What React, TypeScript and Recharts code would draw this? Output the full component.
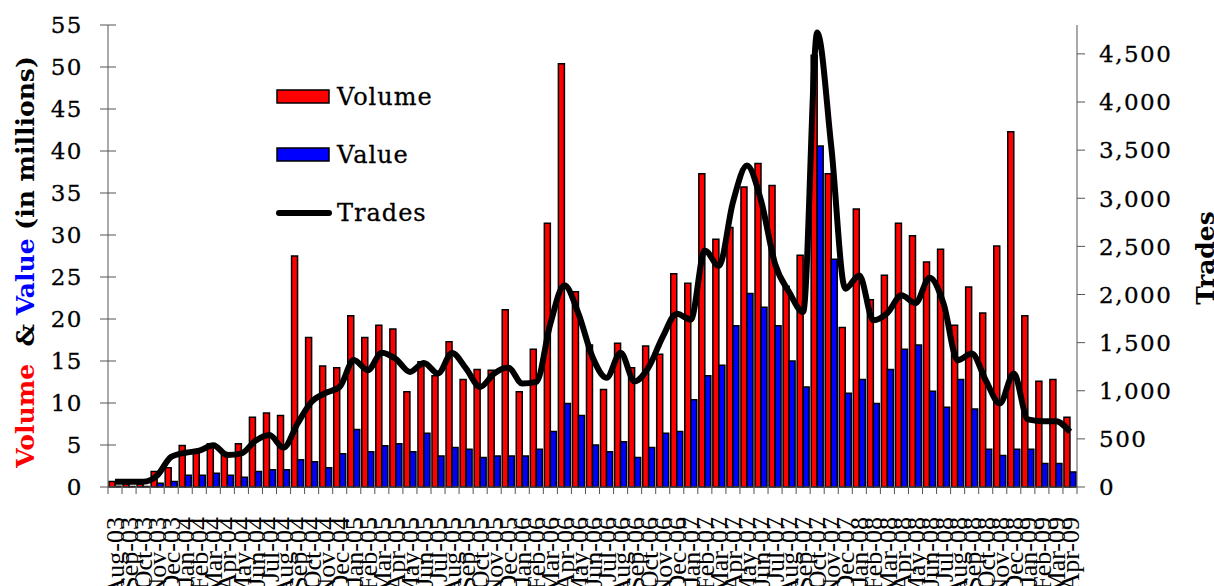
import { ComposedChart, Bar, Line, XAxis, YAxis } from "recharts"

const months = [
  "Aug-03", "Sep-03", "Oct-03", "Nov-03", "Dec-03",
  "Jan-04", "Feb-04", "Mar-04", "Apr-04", "May-04", "Jun-04", "Jul-04", "Aug-04", "Sep-04", "Oct-04", "Nov-04", "Dec-04",
  "Jan-05", "Feb-05", "Mar-05", "Apr-05", "May-05", "Jun-05", "Jul-05", "Aug-05", "Sep-05", "Oct-05", "Nov-05", "Dec-05",
  "Jan-06", "Feb-06", "Mar-06", "Apr-06", "May-06", "Jun-06", "Jul-06", "Aug-06", "Sep-06", "Oct-06", "Nov-06", "Dec-06",
  "Jan-07", "Feb-07", "Mar-07", "Apr-07", "May-07", "Jun-07", "Jul-07", "Aug-07", "Sep-07", "Oct-07", "Nov-07", "Dec-07",
  "Jan-08", "Feb-08", "Mar-08", "Apr-08", "May-08", "Jun-08", "Jul-08", "Aug-08", "Sep-08", "Oct-08", "Nov-08", "Dec-08",
  "Jan-09", "Feb-09", "Mar-09", "Apr-09",
]

// millions
const volume = [
  0.65, 0.4, 0.4, 1.85, 2.3,
  4.95, 4.3, 5.15, 4.1, 5.15, 8.3, 8.8, 8.5, 27.5, 17.8, 14.4, 14.2,
  20.4, 17.8, 19.25, 18.8, 11.35, 14.9, 13.25, 17.3, 12.8, 14.0, 13.9, 21.1,
  11.35, 16.4, 31.4, 50.4, 23.25, 16.9, 11.6, 17.1, 14.2, 16.8, 15.8, 25.4,
  24.25, 37.3, 29.5, 30.9, 35.7, 38.5, 35.9, 23.9, 27.6, 51.4, 37.3, 19.0,
  33.1, 22.3, 25.2, 31.4, 29.9, 26.8, 28.3, 19.25, 23.8, 20.7, 28.7, 42.3,
  20.4, 12.6, 12.8, 8.3,
]

const value = [
  0.08, 0.06, 0.06, 0.45, 0.65,
  1.4, 1.4, 1.65, 1.4, 1.15, 1.85, 2.05, 2.05, 3.25, 3.0, 2.3, 3.95,
  6.85, 4.2, 4.9, 5.15, 4.2, 6.4, 3.7, 4.7, 4.5, 3.5, 3.7, 3.7,
  3.7, 4.5, 6.6, 9.95, 8.5, 5.0, 4.2, 5.4, 3.5, 4.7, 6.4, 6.6,
  10.4, 13.25, 14.5, 19.2, 23.05, 21.4, 19.2, 15.0, 11.9, 40.6, 27.1, 11.15,
  12.8, 9.95, 14.0, 16.4, 16.9, 11.4, 9.5, 12.8, 9.3, 4.5, 3.75, 4.5,
  4.5, 2.8, 2.8, 1.8,
]

const trades = [
  55, 55, 55, 120, 314,
  356, 377, 435, 332, 349, 480, 539, 408, 660, 885, 978, 1040,
  1320, 1213, 1395, 1330, 1196, 1289, 1179, 1393, 1230, 1040, 1179, 1241,
  1075, 1092, 1697, 2095, 1801, 1351, 1135, 1395, 1097, 1245, 1560, 1801,
  1740, 2457, 2295, 2959, 3339, 2976, 2319, 2025, 1818, 4721, 3540, 2060,
  2198, 1732, 1808, 1991, 1911, 2174, 1905, 1317, 1386, 1110, 868, 1179,
  702, 684, 684, 573,
]

const leftTicks = [0, 5, 10, 15, 20, 25, 30, 35, 40, 45, 50, 55]
const rightTicks = [0, 500, 1000, 1500, 2000, 2500, 3000, 3500, 4000, 4500]

const data = months.map((m, i) => ({
  month: m,
  volume: volume[i],
  value: value[i],
  trades: trades[i],
}))

const W = 1214
const H = 586
const PLOT_LEFT = 108
const PLOT_RIGHT = 1077
const PLOT_TOP = 25
const PLOT_BOTTOM = 487
const STEP = (PLOT_RIGHT - PLOT_LEFT) / months.length
const serif = "'DejaVu Serif', serif"
const axisColor = "#555"

function LeftTick({ y, payload }: any) {
  return (
    <g>
      <line x1={PLOT_LEFT - 8} x2={PLOT_LEFT + 8} y1={y} y2={y} stroke={axisColor} />
      <text x={83} y={y} dy="0.36em" textAnchor="end" fontFamily={serif} fontSize={23} letterSpacing={1.5}
        fill="#000" stroke="#000" strokeWidth={0.3}>
        {payload.value}
      </text>
    </g>
  )
}

function RightTick({ y, payload }: any) {
  return (
    <g>
      <line x1={PLOT_RIGHT} x2={PLOT_RIGHT + 8} y1={y} y2={y} stroke={axisColor} />
      <text x={1099} y={y} dy="0.36em" textAnchor="start" fontFamily={serif} fontSize={23} letterSpacing={1.5}
        fill="#000" stroke="#000" strokeWidth={0.3}>
        {Number(payload.value).toLocaleString("en-US")}
      </text>
    </g>
  )
}

function MonthTick({ x, payload }: any) {
  const last = payload.value === months[months.length - 1]
  return (
    <g>
      <line x1={x - STEP / 2} x2={x - STEP / 2} y1={PLOT_BOTTOM} y2={PLOT_BOTTOM + 7} stroke={axisColor} />
      {last && <line x1={x + STEP / 2} x2={x + STEP / 2} y1={PLOT_BOTTOM} y2={PLOT_BOTTOM + 7} stroke={axisColor} />}
      <text
        transform={`translate(${x},517) rotate(-90)`}
        dy="0.35em"
        textAnchor="end"
        fontFamily="'Liberation Serif', serif"
        fontSize={26}
        fill="#000"
      >
        {payload.value}
      </text>
    </g>
  )
}

export default function App() {
  return (
    <div style={{ position: "absolute", left: 0, top: 0, width: W, height: H, background: "#fff", overflow: "hidden" }}>
      <ComposedChart
        width={W}
        height={H}
        data={data}
        margin={{ top: PLOT_TOP, right: 0, bottom: 0, left: 0 }}
        barCategoryGap={1}
        barGap={0}
      >
        <XAxis
          dataKey="month"
          interval={0}
          height={H - PLOT_BOTTOM}
          tickLine={false}
          axisLine={{ stroke: axisColor }}
          tick={<MonthTick />}
        />
        <YAxis
          yAxisId="left"
          width={PLOT_LEFT}
          domain={[0, 55]}
          ticks={leftTicks}
          interval={0}
          tickLine={false}
          axisLine={{ stroke: axisColor }}
          tick={<LeftTick />}
        />
        <YAxis
          yAxisId="right"
          orientation="right"
          width={W - PLOT_RIGHT}
          domain={[0, 4800]}
          ticks={rightTicks}
          interval={0}
          tickLine={false}
          axisLine={{ stroke: axisColor }}
          tick={<RightTick />}
        />
        <Bar yAxisId="left" dataKey="volume" fill="#FF0000" stroke="#000" strokeWidth={1.5} isAnimationActive={false} />
        <Bar yAxisId="left" dataKey="value" fill="#0000FF" stroke="#000" strokeWidth={1.5} isAnimationActive={false} />
        <Line
          yAxisId="right"
          dataKey="trades"
          type="monotone"
          stroke="#000"
          strokeWidth={6}
          strokeLinejoin="round"
          dot={false}
          activeDot={false}
          isAnimationActive={false}
        />
      </ComposedChart>
      <svg width={W} height={H} style={{ position: "absolute", left: 0, top: 0, pointerEvents: "none" }}>
        <text
          transform="translate(25,262) rotate(-90)"
          textAnchor="middle"
          dy="0.35em"
          fontFamily={serif}
          fontWeight="bold"
          fontSize={25}
          style={{ whiteSpace: "pre" }}
        >
          <tspan fill="#FF0000">Volume</tspan>
          <tspan fill="#000">{"  & "}</tspan>
          <tspan fill="#0000FF">Value</tspan>
          <tspan fill="#000">{" (in millions)"}</tspan>
        </text>
        <text
          transform="translate(1205,258) rotate(-90)"
          textAnchor="middle"
          dy="0.35em"
          fontFamily={serif}
          fontWeight="bold"
          fontSize={25}
          fill="#000"
        >
          Trades
        </text>
        <rect x={277} y={90} width={52} height={13} fill="#FF0000" stroke="#000" strokeWidth={1.5} />
        <text x={337} y={96} dy="0.36em" fontFamily={serif} fontSize={24} letterSpacing={1} fill="#000"
          stroke="#000" strokeWidth={0.3}>Volume</text>
        <rect x={277} y={148} width={52} height={13} fill="#0000FF" stroke="#000" strokeWidth={1.5} />
        <text x={337} y={154} dy="0.36em" fontFamily={serif} fontSize={24} letterSpacing={1} fill="#000"
          stroke="#000" strokeWidth={0.3}>Value</text>
        <line x1={279} x2={329} y1={213} y2={213} stroke="#000" strokeWidth={6} strokeLinecap="round" />
        <text x={337} y={212} dy="0.36em" fontFamily={serif} fontSize={24} letterSpacing={1} fill="#000"
          stroke="#000" strokeWidth={0.3}>Trades</text>
      </svg>
    </div>
  )
}
